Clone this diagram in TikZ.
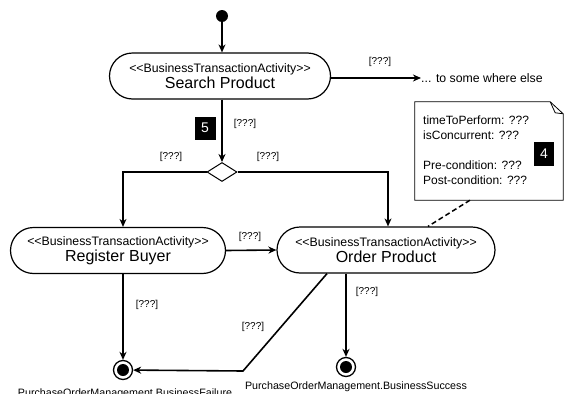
\documentclass[tikz,border=0pt]{standalone}
\usepackage{fontspec}
\setmainfont{Liberation Sans}
\usetikzlibrary{shapes.misc,shapes.geometric,arrows.meta,calc}
\tikzset{
  act/.style={draw, line width=1.2pt, rounded rectangle, minimum height=46pt, inner sep=0pt, align=center},
  flow/.style={line width=1.6pt, -{Stealth[length=8pt,width=7pt,inset=2.5pt]}},
  guard/.style={font=\fontsize{10}{12}\selectfont, inner sep=0pt},
  numbox/.style={fill=black, text=white, font=\fontsize{14}{16}\selectfont, minimum width=21pt, minimum height=23pt, inner sep=0pt},
  initial/.style={circle, fill=black, minimum size=12pt, inner sep=0pt},
  final/.style={circle, draw, line width=1.3pt, minimum size=19pt, inner sep=0pt,
    path picture={\fill (path picture bounding box.center) circle (6pt);}},
  decision/.style={diamond, draw, line width=1pt, minimum width=30pt, minimum height=19pt, inner sep=0pt},
  plain/.style={inner sep=0pt},
  endlabel/.style={font=\fontsize{10.7}{12}\selectfont, inner sep=0pt},
  notetext/.style={font=\fontsize{12}{15}\selectfont, align=left, inner sep=0pt, anchor=north west},
}
\newcommand{\myactlabel}[1]{{\fontsize{12.3}{13}\selectfont <{}<BusinessTransactionActivity>{}>}\\[1pt]{\fontsize{16}{17}\selectfont #1}}
\begin{document}
\begin{tikzpicture}[x=1pt,y=-1pt]
\useasboundingbox (0,0) rectangle (566,394);

% nodes
\node[initial] (init) at (222,16) {};
\node[act, minimum width=221pt] (search) at (220,76) {\myactlabel{Search Product}};
\node[plain, anchor=west, font=\fontsize{12.3}{14}\selectfont] (else) at (421,78) {... to some where else};
\node[decision] (dec) at (222,172) {};
\node[numbox] (five) at (205,128) {5};
\node[act, minimum width=215pt] (register) at (118,250.5) {\myactlabel{Register Buyer}};
\node[act, minimum width=218pt] (order) at (386,250) {\myactlabel{Order Product}};
\node[final] (fail) at (123,370) {};
\node[final] (success) at (346,367) {};
\node[endlabel] (faillabel) at (125,394) {PurchaseOrderManagement.BusinessFailure};
\node[endlabel] (successlabel) at (356,387) {PurchaseOrderManagement.BusinessSuccess};

% note
\node[minimum width=148pt, minimum height=98pt, inner sep=0pt] (note) at (489,151) {};
\draw[line width=0.8pt] (note.north west) -- ([xshift=-13pt]note.north east)
  -- ([yshift=-12pt]note.north east) -- (note.south east) -- (note.south west) -- cycle;
\draw[line width=0.8pt] ([xshift=-13pt]note.north east) -- ([xshift=-8pt,yshift=-11pt]note.north east)
  -- ([yshift=-12pt]note.north east);
\node[notetext] (notetxt) at (423,116)
  {timeToPerform: ???\\isConcurrent: ???\\[15pt]Pre-condition: ???\\Post-condition: ???};
\node[numbox, minimum width=20pt, minimum height=24pt] (four) at (544,154) {4};

% connectors
\draw[flow] (init) -- (init |- search.north);
\draw[flow] ([yshift=-2pt]search.east) -- (else.west);
\draw[flow] (dec.north |- search.south) -- (dec.north);
\draw[flow] (dec.west) -| ([xshift=5pt]register.north);
\draw[flow] (dec.east) -| ([xshift=2pt]order.north);
\draw[flow] (register.east) -- (order.west);
\draw[flow] (fail.north |- register.south) -- (fail);
\coordinate (bend) at (243,371);
\draw[flow] ([xshift=-59pt]order.south) -- (bend) -- (fail);
\draw[flow] (success.north |- order.south) -- (success);
\draw[line width=1.5pt, dash pattern=on 5pt off 3pt] ([xshift=-19pt]note.south) -- ([xshift=42pt]order.north);

% guards
\node[guard] at (380,62) {[???]};
\node[guard] at (245,124) {[???]};
\node[guard] at (171,157) {[???]};
\node[guard] at (268,157) {[???]};
\node[guard] at (250,237) {[???]};
\node[guard] at (147,305) {[???]};
\node[guard] at (253,327) {[???]};
\node[guard] at (367,292) {[???]};
\end{tikzpicture}
\end{document}
